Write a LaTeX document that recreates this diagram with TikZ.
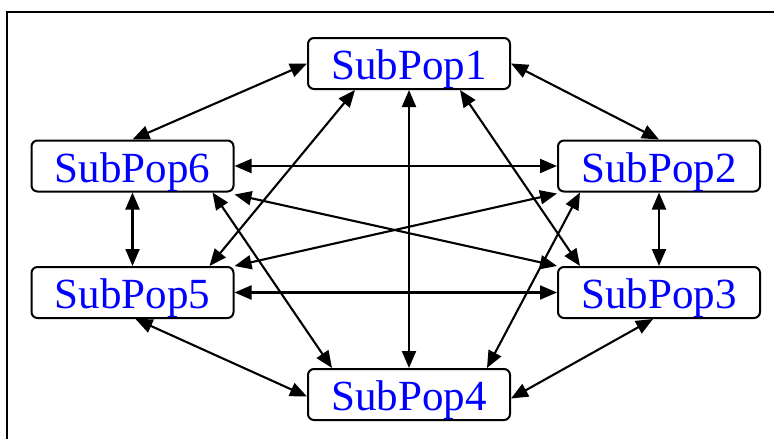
\documentclass[tikz,border=0pt]{standalone}
\usepackage{fontspec}
\setmainfont{Liberation Serif}
\usetikzlibrary{arrows.meta}
\begin{document}
\begin{tikzpicture}[x=1pt,y=-1pt,
  pop/.style={draw, line width=2pt, rounded corners=6pt, minimum width=202pt,
    minimum height=51pt, inner sep=0pt, text=blue, fill=white,
    font=\fontsize{43}{43}\selectfont, text height=32pt, text depth=0pt},
  link/.style={line width=2.1pt,
    {Triangle[length=17pt,width=14pt]}-{Triangle[length=17pt,width=14pt]}},
  frameline/.style={line width=2.2pt}]
\useasboundingbox (0,0) rectangle (774,439);
% outer frame
\coordinate (fa) at (7,445);
\coordinate (fb) at (7,12);
\coordinate (fc) at (780,12);
\draw[frameline] (fa) -- (fb) -- (fc);
% nodes
\node[pop] (n1) at (409,63.5) {SubPop1};
\node[pop] (n6) at (132.5,166) {SubPop6};
\node[pop] (n2) at (659,166) {SubPop2};
\node[pop] (n5) at (132.5,292.5) {SubPop5};
\node[pop] (n3) at (659,292.5) {SubPop3};
\node[pop] (n4) at (409,394.5) {SubPop4};
% connectors
\draw[link] (n1.west) -- (n6.north);
\draw[link] (n1.east) -- (n2.north);
\draw[link] (n1.south) -- (n4.north);
\draw[link] ([xshift=-54pt]n1.south) -- ([xshift=77pt]n5.north);
\draw[link] ([xshift=51pt]n1.south) -- ([xshift=-79pt]n3.north);
\draw[link] (n6.east) -- (n2.west);
\draw[link] ([yshift=-2pt]n6.south east) -- (n3.north west);
\draw[link] ([xshift=80pt]n6.south) -- ([xshift=-77pt]n4.north);
\draw[link] (n6.south) -- (n5.north);
\draw[link] (n5.north east) -- ([yshift=-1pt]n2.south west);
\draw[link] (n5.east) -- (n3.west);
\draw[link] ([xshift=3pt]n5.south) -- ([yshift=-2pt]n4.west);
\draw[link] ([yshift=-4pt]n4.east) -- ([xshift=-6pt]n3.south);
\draw[link] ([xshift=78pt]n4.north) -- ([xshift=-79pt]n2.south);
\draw[link] (n2.south) -- (n3.north);
\end{tikzpicture}
\end{document}
